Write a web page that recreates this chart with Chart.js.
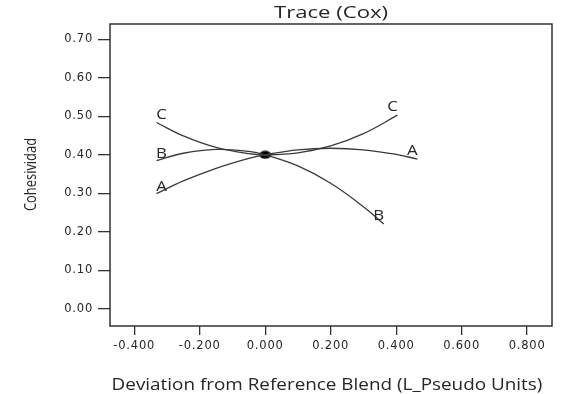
<!DOCTYPE html>
<html>
<head>
<meta charset="utf-8">
<script src="https://cdn.jsdelivr.net/npm/chart.js@4/dist/chart.umd.min.js"></script>
<style>
  html, body { margin: 0; padding: 0; background: #ffffff; }
  #wrap { width: 567px; height: 394px; }
</style>
</head>
<body>
<div id="wrap"><canvas id="c" width="567" height="394"></canvas></div>
<script>
// ---- data ----
const chartTitle = "Trace (Cox)";
const xTitle = "Deviation from Reference Blend (L_Pseudo Units)";
const yTitle = "Cohesividad";
const seriesNames = ["C", "B", "A"];

const cX = [-0.332, -0.25, -0.15, -0.05, 0.0, 0.10, 0.20, 0.30, 0.404];
const cY = [0.484, 0.449, 0.419, 0.403, 0.400, 0.405, 0.423, 0.455, 0.503];

const bX = [-0.332, -0.25, -0.15, -0.05, 0.0, 0.10, 0.20, 0.30, 0.362];
const bY = [0.385, 0.404, 0.414, 0.409, 0.400, 0.371, 0.326, 0.265, 0.220];

const aX = [-0.332, -0.25, -0.15, -0.05, 0.0, 0.10, 0.20, 0.30, 0.40, 0.465];
const aY = [0.299, 0.332, 0.365, 0.391, 0.400, 0.413, 0.417, 0.413, 0.401, 0.389];

const refX = [0.0];
const refY = [0.40];

const xTicks = [-0.4, -0.2, 0.0, 0.2, 0.4, 0.6, 0.8];
const yTicks = [0.0, 0.1, 0.2, 0.3, 0.4, 0.5, 0.6, 0.7];

// ---- build ----
const FONT = "'Open Sans', 'Noto Sans', sans-serif";
const TICKFONT = "'DejaVu Sans', sans-serif";
const TXT = "#262626";
const LINE = "#3a3a3a";
const toPts = (xs, ys) => xs.map((x, i) => ({ x: x, y: ys[i] }));

// slightly wide elliptical marker for the reference point
const dot = document.createElement('canvas');
dot.width = 13; dot.height = 9;
(() => {
  const g = dot.getContext('2d');
  g.fillStyle = '#000';
  g.beginPath();
  g.ellipse(6.5, 4.5, 6, 4, 0, 0, Math.PI * 2);
  g.fill();
})();

const curveDs = (name, xs, ys) => ({
  label: name,
  data: toPts(xs, ys),
  borderColor: LINE,
  borderWidth: 1.3,
  pointRadius: 0,
  tension: 0.4,
  fill: false
});

function stretchedText(ctx, text, x, y, sx, sy, rot) {
  ctx.save();
  ctx.translate(x, y);
  if (rot) ctx.rotate(rot);
  ctx.scale(sx, sy);
  ctx.fillText(text, 0, 0);
  ctx.restore();
}

const framePlugin = {
  id: 'frame',
  beforeDraw(chart) {
    chart.ctx.letterSpacing = '0.8px';
  },
  afterDraw(chart) {
    const { ctx, chartArea: a } = chart;
    ctx.save();
    ctx.letterSpacing = '0px';
    ctx.strokeStyle = "#333";
    ctx.lineWidth = 1.5;
    ctx.strokeRect(a.left, a.top, a.right - a.left, a.bottom - a.top);

    // series letters at curve ends
    ctx.fillStyle = TXT;
    ctx.textAlign = "center";
    ctx.textBaseline = "middle";
    ctx.font = "14px " + FONT;
    for (let d = 0; d < 3; d++) {
      const pts = chart.getDatasetMeta(d).data;
      const first = pts[0], last = pts[pts.length - 1];
      const name = chart.data.datasets[d].label;
      stretchedText(ctx, name, first.x + 5, first.y - 7, 1.2, 1, 0);
      stretchedText(ctx, name, last.x - 5, last.y - 8, 1.2, 1, 0);
    }

    // titles
    ctx.font = "17px " + FONT;
    stretchedText(ctx, chartTitle, (a.left + a.right) / 2, 13, 1.3, 1, 0);
    ctx.font = "16px " + FONT;
    stretchedText(ctx, xTitle, 327, 385, 1.18, 1, 0);
    ctx.font = "17px " + FONT;
    stretchedText(ctx, yTitle, 31, 174.5, 0.76, 1, -Math.PI / 2);
    ctx.restore();
  }
};

new Chart(document.getElementById('c'), {
  type: 'line',
  data: {
    datasets: [
      curveDs(seriesNames[0], cX, cY),
      curveDs(seriesNames[1], bX, bY),
      curveDs(seriesNames[2], aX, aY),
      {
        label: 'ref',
        data: toPts(refX, refY),
        showLine: false,
        pointStyle: dot,
        pointRadius: 5,
        pointBackgroundColor: '#000',
        pointBorderColor: '#000'
      }
    ]
  },
  options: {
    responsive: false,
    animation: false,
    events: [],
    layout: { padding: { left: 0, top: 24, right: 15, bottom: 0 } },
    plugins: { legend: { display: false }, tooltip: { enabled: false }, title: { display: false } },
    scales: {
      x: {
        type: 'linear',
        min: -0.474,
        max: 0.876,
        afterFit(s) { s.height = 68; },
        afterBuildTicks(s) { s.ticks = xTicks.map(v => ({ value: v })); },
        grid: { drawOnChartArea: false, drawTicks: true, tickLength: 9, color: '#333', lineWidth: 1.3 },
        border: { display: false },
        ticks: {
          color: TXT,
          font: { family: TICKFONT, size: 11.5 },
          padding: 4,
          maxRotation: 0,
          callback: v => v.toFixed(3)
        }
      },
      y: {
        type: 'linear',
        min: -0.045,
        max: 0.74,
        afterFit(s) { s.width = 110; },
        afterBuildTicks(s) { s.ticks = yTicks.map(v => ({ value: v })); },
        grid: { drawOnChartArea: false, drawTicks: true, tickLength: 12, color: '#333', lineWidth: 1.3 },
        border: { display: false },
        ticks: {
          color: TXT,
          font: { family: TICKFONT, size: 11.5 },
          padding: 5,
          callback: v => v.toFixed(2)
        }
      }
    }
  },
  plugins: [framePlugin]
});
</script>
</body>
</html>
